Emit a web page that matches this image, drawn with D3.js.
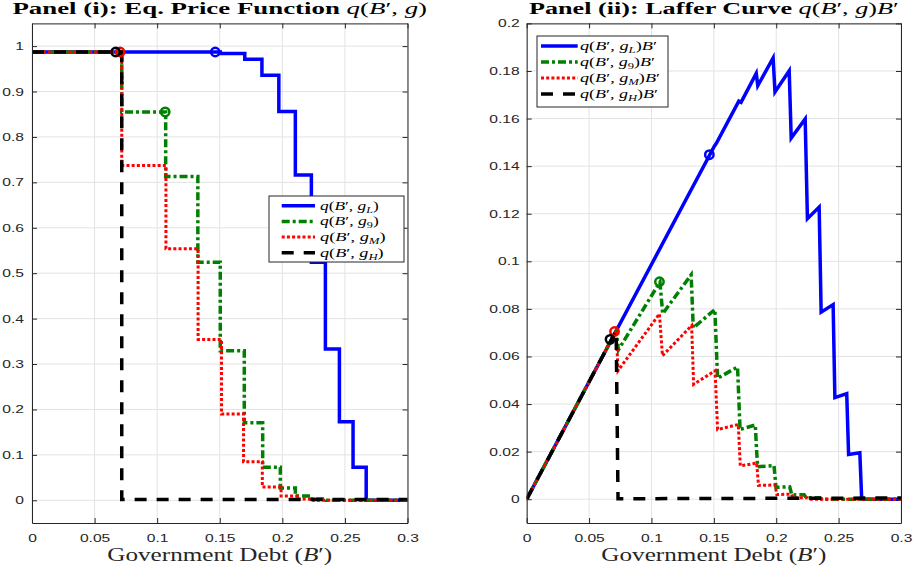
<!DOCTYPE html>
<html>
<head>
<meta charset="UTF-8">
<title>Price function and Laffer curve</title>
<script type="text/javascript" src="https://cdn.jsdelivr.net/npm/d3@7/dist/d3.min.js"></script>
<style>
body { margin: 0; background: #fff; }
</style>
</head>
<body>
<script type="text/javascript">
// tick values
var debtTicks = [0, 0.05, 0.1, 0.15, 0.2, 0.25, 0.3];
var priceTicks = [0, 0.1, 0.2, 0.3, 0.4, 0.5, 0.6, 0.7, 0.8, 0.9, 1];
var lafferTicks = [0, 0.02, 0.04, 0.06, 0.08, 0.1, 0.12, 0.14, 0.16, 0.18, 0.2];

// Panel (i): price q(B',g) as steps, q[i] holds from B[i] to B[i+1]
var priceB_L = [0, 0.1504, 0.170, 0.1837, 0.1972, 0.2104, 0.2232, 0.2344, 0.2456, 0.2565, 0.267, 0.3];
var priceQ_L = [0.987, 0.984, 0.971, 0.936, 0.856, 0.716, 0.524, 0.333, 0.173, 0.073, 0, 0];
var priceB_9 = [0, 0.0717, 0.1068, 0.1325, 0.1504, 0.1696, 0.1843, 0.1984, 0.2104, 0.2224, 0.235, 0.3];
var priceQ_9 = [0.987, 0.855, 0.713, 0.524, 0.329, 0.171, 0.073, 0.027, 0.0095, 0.003, 0, 0];
var priceB_M = [0, 0.0717, 0.107, 0.1327, 0.1514, 0.169, 0.184, 0.199, 0.212, 0.225, 0.3];
var priceQ_M = [0.987, 0.737, 0.554, 0.354, 0.190, 0.085, 0.029, 0.0095, 0.003, 0, 0];
var priceB_H = [0, 0.0717, 0.3];
var priceQ_H = [0.987, 0.002, 0.002];

// Panel (ii): revenue q(B',g)B' vertices
var lafferB_L = [0, 0.1504, 0.1520, 0.1700, 0.1718, 0.1840, 0.1852, 0.1975, 0.1990, 0.2104, 0.2120, 0.2232, 0.2250, 0.2344, 0.2360, 0.2456, 0.2470, 0.2565, 0.2580, 0.2670, 0.2685, 0.3];
var lafferR_L = [0, 0.1484, 0.1496, 0.1673, 0.1668, 0.1790, 0.1738, 0.1855, 0.1712, 0.1801, 0.1518, 0.1598, 0.1179, 0.1228, 0.0786, 0.0818, 0.0427, 0.0444, 0.0188, 0.0195, 0, 0];
var lafferB_9 = [0, 0.0717, 0.0735, 0.1068, 0.1090, 0.1318, 0.1335, 0.1508, 0.1530, 0.1690, 0.1710, 0.1832, 0.1850, 0.1982, 0.1998, 0.2108, 0.2125, 0.2224, 0.2240, 0.2350, 0.2365, 0.3];
var lafferR_9 = [0, 0.0708, 0.0628, 0.0913, 0.0780, 0.0943, 0.0720, 0.0797, 0.0508, 0.0556, 0.0293, 0.0312, 0.0136, 0.0142, 0.0050, 0.0052, 0.0018, 0.0019, 0.0006, 0.0006, 0, 0];
var lafferB_M = [0, 0.0717, 0.0732, 0.1064, 0.1088, 0.1322, 0.1338, 0.1510, 0.1530, 0.1696, 0.1712, 0.1843, 0.1858, 0.1990, 0.2005, 0.2120, 0.2135, 0.2250, 0.2265, 0.3];
var lafferR_M = [0, 0.0708, 0.0540, 0.0779, 0.0603, 0.0730, 0.0483, 0.0540, 0.0293, 0.0314, 0.0140, 0.0152, 0.0058, 0.0060, 0.0020, 0.0021, 0.0006, 0.0006, 0, 0];
var lafferB_H = [0, 0.0717, 0.0732, 0.3];
var lafferR_H = [0, 0.0708, 0.0002, 0.0005];

// circle markers (order L, 9, M, H)
var markerB = [0.1464, 0.1064, 0.0704, 0.0668];
var markerQ = [0.987, 0.855, 0.987, 0.987];
var markerR = [0.1448, 0.0914, 0.0705, 0.0672];

// legend subscripts
var subs = ["L", "9", "M", "H"];

// line styles
var styles = [
	{ color: "#0000ff", dash: null, width: 3.5 },
	{ color: "#008000", dash: "8,3,3,3", width: 3.5 },
	{ color: "#ff0000", dash: "3,2.2", width: 3 },
	{ color: "#000000", dash: "12,10", width: 3.5 }
];

var serif = "'Liberation Serif', 'Times New Roman', serif";
var sans = "'Liberation Sans', Arial, sans-serif";
var axisColor = "#262626";

var svg = d3.select("body")
	.append("svg")
	.attr("width", 916)
	.attr("height", 571);

// stretch a text horizontally to a target width around anchor x
function fitWidth(sel, target, ax) {
	var w = sel.node().getBBox().width;
	sel.attr("transform", "translate(" + ax + ",0) scale(" + (target / w) + ",1) translate(" + (-ax) + ",0)");
}

// q(B', g_s) [B'] as tspans
function mathText(t, sub, withB) {
	t.append("tspan").attr("font-style", "italic").text("q");
	t.append("tspan").text("(");
	t.append("tspan").attr("font-style", "italic").text("B");
	t.append("tspan").text("\u2032, ");
	t.append("tspan").attr("font-style", "italic").text("g");
	if (sub) {
		t.append("tspan").attr("font-size", "0.7em").attr("dy", 3)
			.attr("font-style", sub === "9" ? "normal" : "italic").text(sub);
		t.append("tspan").attr("dy", -3).text(")");
	} else {
		t.append("tspan").text(")");
	}
	if (withB) {
		t.append("tspan").attr("font-style", "italic").text("B");
		t.append("tspan").text("\u2032");
	}
}

function drawPanel(p) {
	var x = d3.scaleLinear().domain([0, 0.3]).range([p.x0, p.x1]);
	var y = d3.scaleLinear().domain(p.yDomain).range([p.y1, p.y0]);
	var g = svg.append("g");

	// grid
	g.selectAll(".vgrid").data(debtTicks).enter().append("line")
		.attr("x1", function(d) { return x(d); }).attr("x2", function(d) { return x(d); })
		.attr("y1", p.y0).attr("y2", p.y1)
		.attr("stroke", "#e3e3e3").attr("stroke-width", 1);
	g.selectAll(".hgrid").data(p.yTicks).enter().append("line")
		.attr("x1", p.x0).attr("x2", p.x1)
		.attr("y1", function(d) { return y(d); }).attr("y2", function(d) { return y(d); })
		.attr("stroke", "#e3e3e3").attr("stroke-width", 1);

	g.append("clipPath").attr("id", p.id + "clip").append("rect")
		.attr("x", p.x0).attr("y", p.y0).attr("width", p.x1 - p.x0).attr("height", p.y1 - p.y0);

	var line = d3.line()
		.x(function(d) { return x(d[0]); })
		.y(function(d) { return y(d[1]); })
		.curve(p.step ? d3.curveStepAfter : d3.curveLinear);

	var plot = g.append("g").attr("clip-path", "url(#" + p.id + "clip)");
	p.series.forEach(function(s, i) {
		var st = styles[i];
		var pts = s.B.map(function(b, j) { return [b, s.V[j]]; });
		plot.append("path")
			.datum(pts)
			.attr("d", line)
			.attr("fill", "none")
			.attr("stroke", st.color)
			.attr("stroke-width", st.width)
			.attr("stroke-dasharray", st.dash)
			.attr("stroke-linejoin", "miter");
	});
	p.series.forEach(function(s, i) {
		plot.append("circle")
			.attr("cx", x(markerB[i]))
			.attr("cy", y(p.markerV[i]))
			.attr("r", 4.2)
			.attr("fill", "none")
			.attr("stroke", styles[i].color)
			.attr("stroke-width", 2.5);
	});

	// axes, ticks inside on all four sides
	var bottom = g.append("g").attr("transform", "translate(0," + p.y1 + ")")
		.call(d3.axisBottom(x).tickValues(debtTicks).tickSize(-5).tickSizeOuter(0).tickPadding(11.5)
			.tickFormat(function(d) { return String(d); }));
	var left = g.append("g").attr("transform", "translate(" + p.x0 + ",0)")
		.call(d3.axisLeft(y).tickValues(p.yTicks).tickSize(-5).tickSizeOuter(0).tickPadding(p.pad)
			.tickFormat(function(d) { return String(d); }));
	var top = g.append("g").attr("transform", "translate(0," + p.y0 + ")")
		.call(d3.axisTop(x).tickValues(debtTicks).tickSize(-5).tickSizeOuter(0).tickFormat(""));
	var right = g.append("g").attr("transform", "translate(" + p.x1 + ",0)")
		.call(d3.axisRight(y).tickValues(p.yTicks).tickSize(-5).tickSizeOuter(0).tickFormat(""));

	[bottom, left, top, right].forEach(function(a) {
		a.select(".domain").attr("stroke", axisColor).attr("stroke-width", 1);
		a.selectAll(".tick line").attr("stroke", axisColor).attr("stroke-width", 1);
		a.selectAll("text").attr("fill", axisColor).attr("font-family", sans).attr("font-size", 11);
	});
	bottom.selectAll(".tick text").attr("transform", "scale(1.42,1)");
	left.selectAll(".tick text")
		.attr("transform", "translate(" + (-p.pad) + ",0) scale(1.42,1) translate(" + p.pad + ",0)");

	// title
	var cx = (p.x0 + p.x1) / 2;
	var title = g.append("text")
		.attr("x", cx).attr("y", 14)
		.attr("text-anchor", "middle")
		.attr("font-family", serif).attr("font-size", 17).attr("fill", "#000");
	title.append("tspan").attr("font-weight", "bold").text(p.title);
	mathText(title, null, p.withB);
	fitWidth(title, p.titleW, cx);

	// x label
	var xl = g.append("text")
		.attr("x", cx).attr("y", 561)
		.attr("text-anchor", "middle")
		.attr("font-family", serif).attr("font-size", 19).attr("fill", "#262626");
	xl.append("tspan").text("Government Debt (");
	xl.append("tspan").attr("font-style", "italic").text("B");
	xl.append("tspan").text("\u2032)");
	fitWidth(xl, 225, cx);

	// legend
	var L = p.legend;
	var lg = g.append("g");
	lg.append("rect")
		.attr("x", L.x).attr("y", L.y).attr("width", L.w).attr("height", L.h)
		.attr("fill", "#fff").attr("stroke", axisColor).attr("stroke-width", 1);
	subs.forEach(function(sb, i) {
		var ry = L.y + L.first + i * L.step;
		lg.append("line")
			.attr("x1", L.x + L.lx0).attr("x2", L.x + L.lx1)
			.attr("y1", ry).attr("y2", ry)
			.attr("stroke", styles[i].color)
			.attr("stroke-width", styles[i].width)
			.attr("stroke-dasharray", styles[i].dash);
		var t = lg.append("text")
			.attr("x", L.x + L.tx).attr("y", ry + 4)
			.attr("font-family", serif).attr("font-size", 11.5).attr("fill", "#000");
		mathText(t, sb, p.withB);
		fitWidth(t, L.tw[i], L.x + L.tx);
	});
}

drawPanel({
	id: "p1",
	x0: 32, x1: 407.5, y0: 23.4, y1: 523,
	yDomain: [-0.05, 1.05], yTicks: priceTicks, pad: 8,
	step: true,
	series: [
		{ B: priceB_L, V: priceQ_L },
		{ B: priceB_9, V: priceQ_9 },
		{ B: priceB_M, V: priceQ_M },
		{ B: priceB_H, V: priceQ_H }
	],
	markerV: markerQ,
	title: "Panel (i):  Eq. Price Function ",
	titleW: 415,
	withB: false,
	legend: { x: 269, y: 196, w: 135, h: 66, first: 9.7, step: 15.7, lx0: 12.7, lx1: 46, tx: 51, tw: [59, 59, 66, 64] }
});

drawPanel({
	id: "p2",
	x0: 526.7, x1: 901, y0: 23.4, y1: 523,
	yDomain: [-0.01, 0.2], yTicks: lafferTicks, pad: 7,
	step: false,
	series: [
		{ B: lafferB_L, V: lafferR_L },
		{ B: lafferB_9, V: lafferR_9 },
		{ B: lafferB_M, V: lafferR_M },
		{ B: lafferB_H, V: lafferR_H }
	],
	markerV: markerR,
	title: "Panel (ii):  Laffer Curve ",
	titleW: 370,
	withB: true,
	legend: { x: 537, y: 36, w: 131, h: 71, first: 10, step: 16, lx0: 4, lx1: 40.7, tx: 43, tw: [77, 75, 80, 78] }
});
</script>
</body>
</html>
